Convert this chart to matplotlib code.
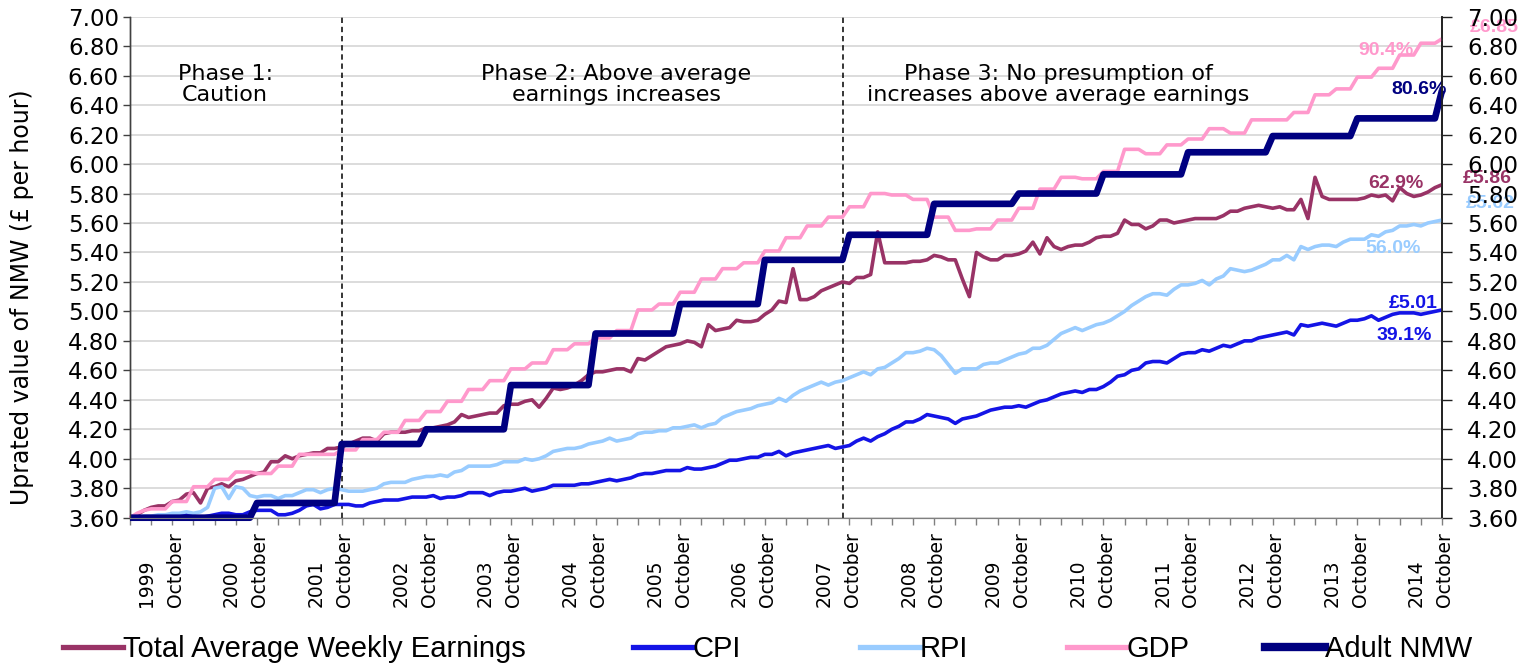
import numpy as np
import pandas as pd
import matplotlib
matplotlib.use("Agg")
import matplotlib.pyplot as plt
from matplotlib.lines import Line2D
import matplotlib.transforms as mtransforms

# ---------------- data ----------------
months = pd.period_range("1999-04", "2014-10", freq="M")

awe = [3.60, 3.62, 3.65, 3.67, 3.68, 3.68, 3.71, 3.72, 3.76, 3.77, 3.70, 3.80,
       3.81, 3.83, 3.81, 3.85, 3.86, 3.88, 3.90, 3.91, 3.98, 3.98, 4.02, 4.00,
       4.02, 4.03, 4.04, 4.04, 4.07, 4.07, 4.08, 4.10, 4.12, 4.14, 4.14, 4.12,
       4.17, 4.18, 4.18, 4.18, 4.19, 4.19, 4.21, 4.21, 4.22, 4.23, 4.25, 4.30,
       4.28, 4.29, 4.30, 4.31, 4.31, 4.36, 4.37, 4.37, 4.39, 4.40, 4.35, 4.41,
       4.48, 4.47, 4.48, 4.50, 4.53, 4.57, 4.59, 4.59, 4.60, 4.61, 4.61, 4.59,
       4.68, 4.67, 4.70, 4.73, 4.76, 4.77, 4.78, 4.80, 4.79, 4.76, 4.91, 4.87,
       4.88, 4.89, 4.94, 4.93, 4.93, 4.94, 4.98, 5.01, 5.07, 5.06, 5.29, 5.08,
       5.08, 5.10, 5.14, 5.16, 5.18, 5.20, 5.19, 5.23, 5.23, 5.25, 5.54, 5.33,
       5.33, 5.33, 5.33, 5.34, 5.34, 5.35, 5.38, 5.37, 5.35, 5.35, 5.22, 5.10,
       5.40, 5.37, 5.35, 5.35, 5.38, 5.38, 5.39, 5.41, 5.47, 5.39, 5.50, 5.44,
       5.42, 5.44, 5.45, 5.45, 5.47, 5.50, 5.51, 5.51, 5.53, 5.62, 5.59, 5.59,
       5.56, 5.58, 5.62, 5.62, 5.60, 5.61, 5.62, 5.63, 5.63, 5.63, 5.63, 5.65,
       5.68, 5.68, 5.70, 5.71, 5.72, 5.71, 5.70, 5.71, 5.69, 5.69, 5.76, 5.63,
       5.91, 5.78, 5.76, 5.76, 5.76, 5.76, 5.76, 5.77, 5.79, 5.78, 5.79, 5.75,
       5.84, 5.80, 5.78, 5.79, 5.81, 5.84, 5.86]

cpi = [3.60, 3.60, 3.60, 3.60, 3.61, 3.61, 3.61, 3.62, 3.62, 3.61, 3.60, 3.61,
       3.62, 3.63, 3.63, 3.62, 3.62, 3.64, 3.65, 3.65, 3.65, 3.62, 3.62, 3.63,
       3.65, 3.68, 3.69, 3.66, 3.67, 3.69, 3.69, 3.69, 3.68, 3.68, 3.70, 3.71,
       3.72, 3.72, 3.72, 3.73, 3.74, 3.74, 3.74, 3.75, 3.73, 3.74, 3.74, 3.75,
       3.77, 3.77, 3.77, 3.75, 3.77, 3.78, 3.78, 3.79, 3.80, 3.78, 3.79, 3.80,
       3.82, 3.82, 3.82, 3.82, 3.83, 3.83, 3.84, 3.85, 3.86, 3.85, 3.86, 3.87,
       3.89, 3.90, 3.90, 3.91, 3.92, 3.92, 3.92, 3.94, 3.93, 3.93, 3.94, 3.95,
       3.97, 3.99, 3.99, 4.00, 4.01, 4.01, 4.03, 4.03, 4.05, 4.02, 4.04, 4.05,
       4.06, 4.07, 4.08, 4.09, 4.07, 4.08, 4.09, 4.12, 4.14, 4.12, 4.15, 4.17,
       4.20, 4.22, 4.25, 4.25, 4.27, 4.30, 4.29, 4.28, 4.27, 4.24, 4.27, 4.28,
       4.29, 4.31, 4.33, 4.34, 4.35, 4.35, 4.36, 4.35, 4.37, 4.39, 4.40, 4.42,
       4.44, 4.45, 4.46, 4.45, 4.47, 4.47, 4.49, 4.52, 4.56, 4.57, 4.60, 4.61,
       4.65, 4.66, 4.66, 4.65, 4.68, 4.71, 4.72, 4.72, 4.74, 4.73, 4.75, 4.77,
       4.76, 4.78, 4.80, 4.80, 4.82, 4.83, 4.84, 4.85, 4.86, 4.84, 4.91, 4.90,
       4.91, 4.92, 4.91, 4.90, 4.92, 4.94, 4.94, 4.95, 4.97, 4.94, 4.96, 4.98,
       4.99, 4.99, 4.99, 4.98, 4.99, 5.00, 5.01]

rpi = [3.60, 3.60, 3.61, 3.61, 3.62, 3.62, 3.63, 3.63, 3.64, 3.63, 3.64, 3.67,
       3.80, 3.81, 3.73, 3.81, 3.80, 3.75, 3.74, 3.75, 3.75, 3.73, 3.75, 3.75,
       3.77, 3.79, 3.79, 3.77, 3.79, 3.80, 3.79, 3.78, 3.78, 3.78, 3.79, 3.80,
       3.83, 3.84, 3.84, 3.84, 3.86, 3.87, 3.88, 3.88, 3.89, 3.88, 3.91, 3.92,
       3.95, 3.95, 3.95, 3.95, 3.96, 3.98, 3.98, 3.98, 4.00, 3.99, 4.00, 4.02,
       4.05, 4.06, 4.07, 4.07, 4.08, 4.10, 4.11, 4.12, 4.14, 4.12, 4.13, 4.14,
       4.17, 4.18, 4.18, 4.19, 4.19, 4.21, 4.21, 4.22, 4.23, 4.21, 4.23, 4.24,
       4.28, 4.30, 4.32, 4.33, 4.34, 4.36, 4.37, 4.38, 4.41, 4.39, 4.43, 4.46,
       4.48, 4.50, 4.52, 4.50, 4.52, 4.53, 4.55, 4.57, 4.59, 4.57, 4.61, 4.62,
       4.65, 4.68, 4.72, 4.72, 4.73, 4.75, 4.74, 4.70, 4.64, 4.58, 4.61, 4.61,
       4.61, 4.64, 4.65, 4.65, 4.67, 4.69, 4.71, 4.72, 4.75, 4.75, 4.77, 4.81,
       4.85, 4.87, 4.89, 4.87, 4.89, 4.91, 4.92, 4.94, 4.97, 5.00, 5.04, 5.07,
       5.10, 5.12, 5.12, 5.11, 5.15, 5.18, 5.18, 5.19, 5.21, 5.18, 5.22, 5.24,
       5.29, 5.28, 5.27, 5.28, 5.30, 5.32, 5.35, 5.35, 5.38, 5.35, 5.44, 5.42,
       5.44, 5.45, 5.45, 5.44, 5.47, 5.49, 5.49, 5.49, 5.52, 5.51, 5.54, 5.55,
       5.58, 5.58, 5.59, 5.58, 5.60, 5.61, 5.62]

gdp = [3.60, 3.63, 3.65, 3.66, 3.66, 3.66, 3.71, 3.71, 3.71, 3.81, 3.81, 3.81,
       3.86, 3.86, 3.86, 3.91, 3.91, 3.91, 3.90, 3.90, 3.90, 3.95, 3.95, 3.95,
       4.03, 4.03, 4.03, 4.03, 4.03, 4.03, 4.06, 4.06, 4.06, 4.13, 4.13, 4.13,
       4.18, 4.18, 4.18, 4.26, 4.26, 4.26, 4.32, 4.32, 4.32, 4.39, 4.39, 4.39,
       4.47, 4.47, 4.47, 4.53, 4.53, 4.53, 4.61, 4.61, 4.61, 4.65, 4.65, 4.65,
       4.74, 4.74, 4.74, 4.78, 4.78, 4.78, 4.82, 4.82, 4.82, 4.87, 4.87, 4.87,
       5.01, 5.01, 5.01, 5.05, 5.05, 5.05, 5.13, 5.13, 5.13, 5.22, 5.22, 5.22,
       5.29, 5.29, 5.29, 5.33, 5.33, 5.33, 5.41, 5.41, 5.41, 5.50, 5.50, 5.50,
       5.58, 5.58, 5.58, 5.64, 5.64, 5.64, 5.71, 5.71, 5.71, 5.80, 5.80, 5.80,
       5.79, 5.79, 5.79, 5.76, 5.76, 5.76, 5.64, 5.64, 5.64, 5.55, 5.55, 5.55,
       5.56, 5.56, 5.56, 5.62, 5.62, 5.62, 5.70, 5.70, 5.70, 5.83, 5.83, 5.83,
       5.91, 5.91, 5.91, 5.90, 5.90, 5.90, 5.95, 5.95, 5.95, 6.10, 6.10, 6.10,
       6.07, 6.07, 6.07, 6.13, 6.13, 6.13, 6.17, 6.17, 6.17, 6.24, 6.24, 6.24,
       6.21, 6.21, 6.21, 6.30, 6.30, 6.30, 6.30, 6.30, 6.30, 6.35, 6.35, 6.35,
       6.47, 6.47, 6.47, 6.51, 6.51, 6.51, 6.59, 6.59, 6.59, 6.65, 6.65, 6.65,
       6.74, 6.74, 6.74, 6.82, 6.82, 6.82, 6.85]

nmw = [3.60, 3.60, 3.60, 3.60, 3.60, 3.60, 3.60, 3.60, 3.60, 3.60, 3.60, 3.60,
       3.60, 3.60, 3.60, 3.60, 3.60, 3.60, 3.70, 3.70, 3.70, 3.70, 3.70, 3.70,
       3.70, 3.70, 3.70, 3.70, 3.70, 3.70, 4.10, 4.10, 4.10, 4.10, 4.10, 4.10,
       4.10, 4.10, 4.10, 4.10, 4.10, 4.10, 4.20, 4.20, 4.20, 4.20, 4.20, 4.20,
       4.20, 4.20, 4.20, 4.20, 4.20, 4.20, 4.50, 4.50, 4.50, 4.50, 4.50, 4.50,
       4.50, 4.50, 4.50, 4.50, 4.50, 4.50, 4.85, 4.85, 4.85, 4.85, 4.85, 4.85,
       4.85, 4.85, 4.85, 4.85, 4.85, 4.85, 5.05, 5.05, 5.05, 5.05, 5.05, 5.05,
       5.05, 5.05, 5.05, 5.05, 5.05, 5.05, 5.35, 5.35, 5.35, 5.35, 5.35, 5.35,
       5.35, 5.35, 5.35, 5.35, 5.35, 5.35, 5.52, 5.52, 5.52, 5.52, 5.52, 5.52,
       5.52, 5.52, 5.52, 5.52, 5.52, 5.52, 5.73, 5.73, 5.73, 5.73, 5.73, 5.73,
       5.73, 5.73, 5.73, 5.73, 5.73, 5.73, 5.80, 5.80, 5.80, 5.80, 5.80, 5.80,
       5.80, 5.80, 5.80, 5.80, 5.80, 5.80, 5.93, 5.93, 5.93, 5.93, 5.93, 5.93,
       5.93, 5.93, 5.93, 5.93, 5.93, 5.93, 6.08, 6.08, 6.08, 6.08, 6.08, 6.08,
       6.08, 6.08, 6.08, 6.08, 6.08, 6.08, 6.19, 6.19, 6.19, 6.19, 6.19, 6.19,
       6.19, 6.19, 6.19, 6.19, 6.19, 6.19, 6.31, 6.31, 6.31, 6.31, 6.31, 6.31,
       6.31, 6.31, 6.31, 6.31, 6.31, 6.31, 6.50]

series_names = ["Total Average Weekly Earnings", "CPI", "RPI", "GDP", "Adult NMW"]
series_values = [awe, cpi, rpi, gdp, nmw]

phase_texts = ["Phase 1:\nCaution",
               "Phase 2: Above average\nearnings increases",
               "Phase 3: No presumption of\nincreases above average earnings"]

end_texts = ["£6.85", "90.4%", "80.6%", "£5.86", "62.9%", "£5.62", "56.0%", "£5.01", "39.1%"]

ylabel = "Uprated value of NMW (£ per hour)"

# ---------------- style ----------------
colors = ["#993366", "#1414E6", "#99CCFF", "#FF99CC", "#000080"]
widths = [2.6, 2.6, 2.6, 2.6, 4.8]
end_colors = ["#FF99CC", "#FF99CC", "#000080", "#993366", "#993366",
              "#99CCFF", "#99CCFF", "#1414E6", "#1414E6"]
end_pos = [(193.4, 6.925), (178.1, 6.77), (182.7, 6.503), (192.4, 5.905),
           (179.5, 5.871), (192.9, 5.729), (179.1, 5.43), (181.9, 5.057),
           (180.7, 4.839)]

W, H = 1531, 665
fig = plt.figure(figsize=(W / 100, H / 100), dpi=100)
ax = fig.add_axes([130 / W, 1 - 517.7 / H, 1312 / W, 501 / H])

x = np.arange(len(months))
for k, (vals, c, lw) in enumerate(zip(series_values, colors, widths)):
    ax.plot(x, vals, color=c, lw=lw, solid_joinstyle="round",
            solid_capstyle="butt", clip_on=False, zorder=3 + k)

ax.set_xlim(0, len(months) - 1)
ax.set_ylim(3.6, 7.0)
yt = np.round(np.arange(3.6, 7.001, 0.2), 2)
ylabs = [f"{v:.2f}" for v in yt]
ax.set_yticks(yt)
ax.set_yticklabels(ylabs)
ax.yaxis.grid(True, color="#d9d9d9", lw=1.3)
ax.set_axisbelow(True)
ax.tick_params(axis="y", direction="out", length=5, width=1, color="#404040",
               pad=3, labelsize=16.5)

ax2 = ax.twinx()
ax2.set_ylim(3.6, 7.0)
ax2.set_yticks(yt)
ax2.set_yticklabels(ylabs)
ax2.tick_params(axis="y", direction="out", length=7, width=1, color="#202020",
                pad=11, labelsize=16.5)

for a in (ax, ax2):
    a.spines["top"].set_visible(False)
    a.spines["left"].set_color("#404040")
    a.spines["right"].set_color("#202020")
    a.spines["bottom"].set_color("#808080")
    a.spines["left"].set_linewidth(1.0)
    a.spines["right"].set_linewidth(1.2)

ax.set_xticks(x[::3])
ax.set_xticklabels([])
ax.tick_params(axis="x", direction="out", length=5, width=1, color="#808080")

trans = mtransforms.blended_transform_factory(ax.transData, ax.transAxes)
for i, p in enumerate(months):
    if p.month == 6:
        txt = str(p.year)
    elif p.month == 10:
        txt = "October"
    else:
        continue
    ax.text(i + 0.4, -0.178, txt, transform=trans, rotation=90,
            ha="center", va="bottom", fontsize=13.5)

# phase dividers
for xv in (30, 101.1):
    ax.axvline(xv, color="black", lw=1.1, ls=(0, (3.5, 2.5)), zorder=2)

for xc, t in zip((13.5, 68.9, 131.6), phase_texts):
    ax.text(xc, 6.54, t, ha="center", va="center", fontsize=16,
            linespacing=1.05, zorder=10)

for t, c, (xp, yp) in zip(end_texts, end_colors, end_pos):
    ax.text(xp, yp, t, color=c, ha="center", va="center", fontsize=14,
            fontweight="bold", family="Liberation Sans", clip_on=False, zorder=12)

fig.text(22 / W, 1 - 297 / H, ylabel, rotation=90, ha="center", va="center",
         fontsize=17)

# legend (manual, along the bottom)
handle_starts = [63, 633, 860, 1067, 1265]
ly = 1 - 647 / H
for name, c, lw, xs in zip(series_names, colors, widths, handle_starts):
    fig.add_artist(Line2D([xs / W, (xs + 60) / W], [ly, ly], color=c,
                          lw=lw + 1.2, transform=fig.transFigure))
    fig.text((xs + 60) / W, 1 - 657 / H, name, ha="left", va="baseline",
             fontsize=21, family="Liberation Sans")

fig.savefig("out.png", dpi=100)
